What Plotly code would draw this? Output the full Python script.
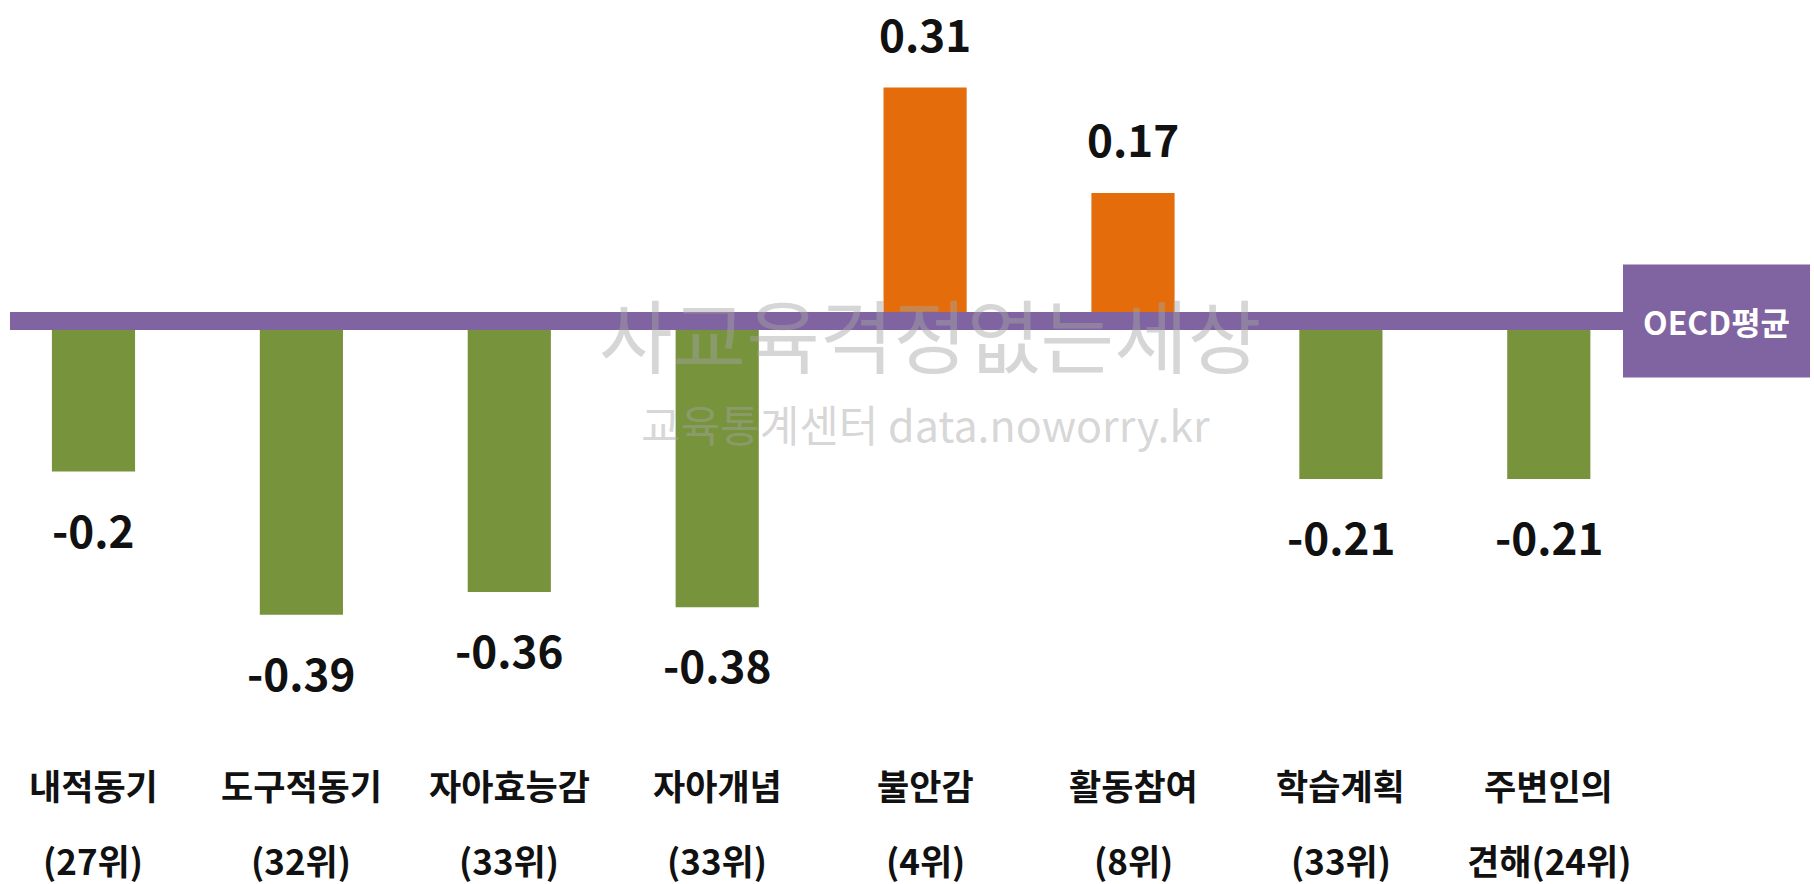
import plotly.graph_objects as go

categories = ["내적동기", "도구적동기", "자아효능감", "자아개념", "불안감", "활동참여", "학습계획", "주변인의"]
ranks = ["(27위)", "(32위)", "(33위)", "(33위)", "(4위)", "(8위)", "(33위)", "견해(24위)"]
values = [-0.2, -0.39, -0.36, -0.38, 0.31, 0.17, -0.21, -0.21]
value_labels = ["-0.2", "-0.39", "-0.36", "-0.38", "0.31", "0.17", "-0.21", "-0.21"]
oecd_avg = 0
oecd_label = "OECD평균"
watermark = ["사교육걱정없는세상", "교육통계센터 data.noworry.kr"]

GREEN = "#77933C"
ORANGE = "#E46C0A"
PURPLE = "#8064A2"
KR_FONT = "Noto Sans CJK KR, sans-serif"

pos = list(range(len(categories)))
colors = [ORANGE if v > oecd_avg else GREEN for v in values]

fig = go.Figure()
fig.add_trace(
    go.Bar(
        x=pos,
        y=values,
        width=0.40,
        marker=dict(color=colors, line=dict(width=0)),
        hoverinfo="skip",
    )
)

# OECD average line + label box
fig.add_shape(
    type="rect", xref="paper", yref="y",
    x0=0.0055, x1=0.8947, y0=oecd_avg - 0.012, y1=oecd_avg + 0.012,
    fillcolor=PURPLE, line=dict(width=0), layer="above",
)
fig.add_shape(
    type="rect", xref="paper", yref="y",
    x0=0.8947, x1=0.9978, y0=oecd_avg - 0.075, y1=oecd_avg + 0.075,
    fillcolor=PURPLE, line=dict(width=0), layer="above",
)
fig.add_annotation(
    x=0.9462, xref="paper", y=oecd_avg, yref="y", text=oecd_label, showarrow=False,
    xanchor="center", yanchor="middle",
    font=dict(family=KR_FONT, size=32, color="white", weight="bold"),
)

# value labels
for i, (v, t) in enumerate(zip(values, value_labels)):
    fig.add_annotation(
        x=i, y=v, text=t, showarrow=False, yanchor="middle",
        yshift=55 if v > 0 else -57,
        font=dict(family=KR_FONT, size=44, color="#111111", weight="bold"),
    )

# category labels (two lines)
for i, (c, r) in enumerate(zip(categories, ranks)):
    fig.add_annotation(
        x=i, y=0.112, yref="paper", text=c, showarrow=False, yanchor="middle",
        font=dict(family=KR_FONT, size=35, color="#111111", weight="bold"),
    )
    fig.add_annotation(
        x=i, y=0.028, yref="paper", text=r, showarrow=False, yanchor="middle",
        font=dict(family=KR_FONT, size=35, color="#111111", weight="bold"),
    )

# watermark
fig.add_annotation(
    x=0.5127, y=0.6244, xref="paper", yref="paper", text=watermark[0], showarrow=False,
    xanchor="center", yanchor="middle",
    font=dict(family=KR_FONT, size=80, color="rgba(165,165,165,0.45)"),
)
fig.add_annotation(
    x=0.51, y=0.5215, xref="paper", yref="paper", text=watermark[1], showarrow=False,
    xanchor="center", yanchor="middle",
    font=dict(family=KR_FONT, size=43, color="rgba(165,165,165,0.45)"),
)

fig.update_layout(
    width=1814,
    height=884,
    margin=dict(l=0, r=0, t=0, b=0),
    paper_bgcolor="white",
    plot_bgcolor="white",
    showlegend=False,
    xaxis=dict(range=[-0.4497, 8.2756], visible=False, fixedrange=True),
    yaxis=dict(range=[-0.7477, 0.4263], visible=False, fixedrange=True),
)

fig.write_html(
    "out.html",
    config={"displayModeBar": False},
    post_script="document.body.style.margin='0';",
)
